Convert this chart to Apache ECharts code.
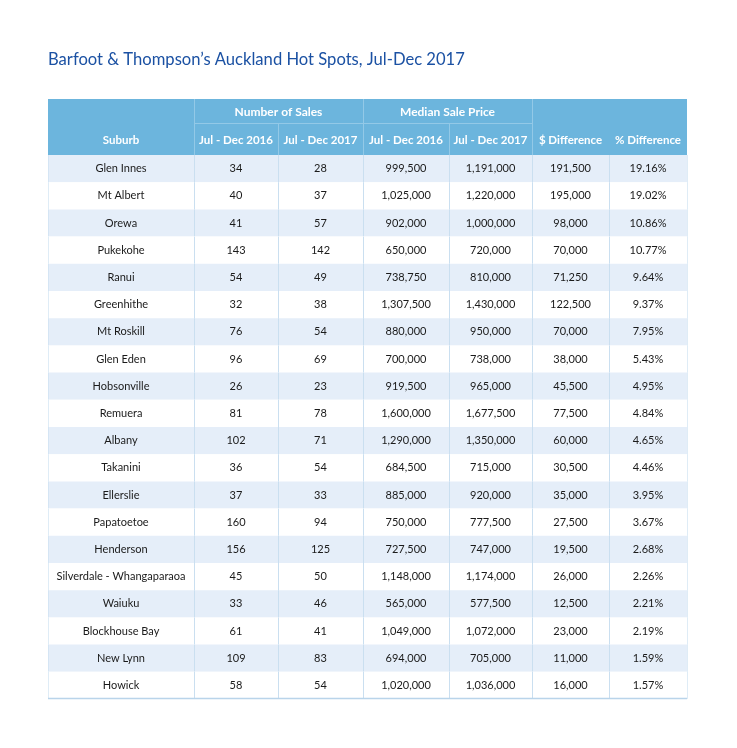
<!DOCTYPE html>
<html>
<head>
<meta charset="utf-8">
<script src="https://cdn.jsdelivr.net/npm/echarts@6/dist/echarts.min.js"></script>
<style>html,body{margin:0;padding:0;background:#fff}#c{width:737px;height:748px}</style>
</head>
<body>
<div id="c"></div>
<script>
// ---- data ----
const suburbs = ['Glen Innes','Mt Albert','Orewa','Pukekohe','Ranui','Greenhithe','Mt Roskill','Glen Eden','Hobsonville','Remuera','Albany','Takanini','Ellerslie','Papatoetoe','Henderson','Silverdale - Whangaparaoa','Waiuku','Blockhouse Bay','New Lynn','Howick'];
const sales2016 = [34,40,41,143,54,32,76,96,26,81,102,36,37,160,156,45,33,61,109,58];
const sales2017 = [28,37,57,142,49,38,54,69,23,78,71,54,33,94,125,50,46,41,83,54];
const price2016 = [999500,1025000,902000,650000,738750,1307500,880000,700000,919500,1600000,1290000,684500,885000,750000,727500,1148000,565000,1049000,694000,1020000];
const price2017 = [1191000,1220000,1000000,720000,810000,1430000,950000,738000,965000,1677500,1350000,715000,920000,777500,747000,1174000,577500,1072000,705000,1036000];
const diffDollar = [191500,195000,98000,70000,71250,122500,70000,38000,45500,77500,60000,30500,35000,27500,19500,26000,12500,23000,11000,16000];
const diffPct = [19.16,19.02,10.86,10.77,9.64,9.37,7.95,5.43,4.95,4.84,4.65,4.46,3.95,3.67,2.68,2.26,2.21,2.19,1.59,1.57];
const title = "Barfoot & Thompson’s Auckland Hot Spots, Jul-Dec 2017";
const groupHeaders = ['Number of Sales','Median Sale Price'];
const colHeaders = ['Suburb','Jul - Dec 2016','Jul - Dec 2017','Jul - Dec 2016','Jul - Dec 2017','$ Difference','% Difference'];

// ---- layout (not data) ----
const colWidths = [146,84,85,86,83,77,78];
const colStart = [0];
colWidths.forEach((w,i)=>colStart.push(colStart[i]+w));
const totalW = colStart[colStart.length-1];
const rowPx = 27.2;
const hdrTop = 24/rowPx, hdrSub = 32/rowPx;
const yMin = -(hdrTop+hdrSub);

const C = {
  header:'#6cb5dd', headerLine:'#93c9e7', alt:'#e5eef9', line:'#cadff0', text:'#1a1a1a', title:'#1b51a3'
};
const FONT = 'Lato';

const fmt = v => v.toLocaleString('en-US');
const rows = suburbs.map((s,i)=>[s, String(sales2016[i]), String(sales2017[i]), fmt(price2016[i]), fmt(price2017[i]), fmt(diffDollar[i]), diffPct[i].toFixed(2)+'%']);

const bodyData = suburbs.map((s,i)=>[i]);

function renderBody(params, api){
  const r = api.value(0);
  const p0 = api.coord([0, r]);
  const p1 = api.coord([totalW, r+1]);
  const children = [];
  children.push({type:'rect', shape:{x:p0[0], y:p0[1], width:p1[0]-p0[0], height:p1[1]-p0[1]}, style:{fill: r%2===0 ? C.alt : '#ffffff'}});
  for (let c=0;c<colWidths.length;c++){
    const a = api.coord([colStart[c], r]);
    const b = api.coord([colStart[c+1], r+1]);
    children.push({type:'text', style:{text: rows[r][c], x:(a[0]+b[0])/2, y:(a[1]+b[1])/2, align:'center', verticalAlign:'middle', fill:C.text, font:'11px '+FONT}});
  }
  for (let c=0;c<=colWidths.length;c++){
    const a = api.coord([colStart[c], r]);
    const b = api.coord([colStart[c], r+1]);
    const edge = (c===0||c===colWidths.length);
    children.push({type:'line', shape:{x1:Math.round(a[0])+0.5, y1:a[1], x2:Math.round(a[0])+0.5, y2:b[1]}, style:{stroke: C.line, lineWidth:1, opacity: edge?0.6:1}});
  }
  if (r === suburbs.length-1){
    children.push({type:'line', shape:{x1:p0[0], y1:Math.round(p1[1])-0.5, x2:p1[0], y2:Math.round(p1[1])-0.5}, style:{stroke:'#b9d4ea', lineWidth:1.5}});
  }
  return {type:'group', children};
}

function renderHeader(params, api){
  const top = api.coord([0, yMin]);
  const mid = api.coord([0, yMin+hdrTop]);
  const bot = api.coord([totalW, 0]);
  const X = c => api.coord([colStart[c], 0])[0];
  const children = [];
  children.push({type:'rect', shape:{x:top[0], y:top[1], width:bot[0]-top[0], height:bot[1]-top[1]}, style:{fill:C.header}});
  [1,3,5].forEach(c=>{
    const x = Math.round(X(c))+0.5;
    children.push({type:'line', shape:{x1:x,y1:top[1],x2:x,y2:bot[1]}, style:{stroke:C.headerLine, lineWidth:1}});
  });
  [2,4].forEach(c=>{
    const x = Math.round(X(c))+0.5;
    children.push({type:'line', shape:{x1:x,y1:mid[1],x2:x,y2:bot[1]}, style:{stroke:C.headerLine, lineWidth:1}});
  });
  const my = Math.round(mid[1])+0.5;
  children.push({type:'line', shape:{x1:X(1),y1:my,x2:X(5),y2:my}, style:{stroke:C.headerLine, lineWidth:1}});
  [[1,3],[3,5]].forEach((g,i)=>{
    children.push({type:'text', style:{text:groupHeaders[i], x:(X(g[0])+X(g[1]))/2, y:(top[1]+mid[1])/2+1, align:'center', verticalAlign:'middle', fill:'#ffffff', font:'bold 12px '+FONT}});
  });
  colHeaders.forEach((h,c)=>{
    children.push({type:'text', style:{text:h, x:(X(c)+X(c+1))/2, y:(mid[1]+bot[1])/2+1, align:'center', verticalAlign:'middle', fill:'#ffffff', font:'bold 11.5px '+FONT}});
  });
  return {type:'group', children};
}

const chart = echarts.init(document.getElementById('c'), null, {renderer:'canvas'});
chart.setOption({
  animation:false,
  title:{text:title, left:48, top:51, padding:0, textStyle:{color:C.title, fontSize:16.6, fontWeight:'normal', fontFamily:FONT}},
  grid:{left:48, right:50, top:99, bottom:49},
  xAxis:{type:'value', min:0, max:totalW, show:false},
  yAxis:{type:'value', min:yMin, max:suburbs.length, inverse:true, show:false},
  series:[
    {type:'custom', renderItem:renderBody, data:bodyData, silent:true},
    {type:'custom', renderItem:renderHeader, data:[[0]], silent:true}
  ]
});
</script>
</body>
</html>
